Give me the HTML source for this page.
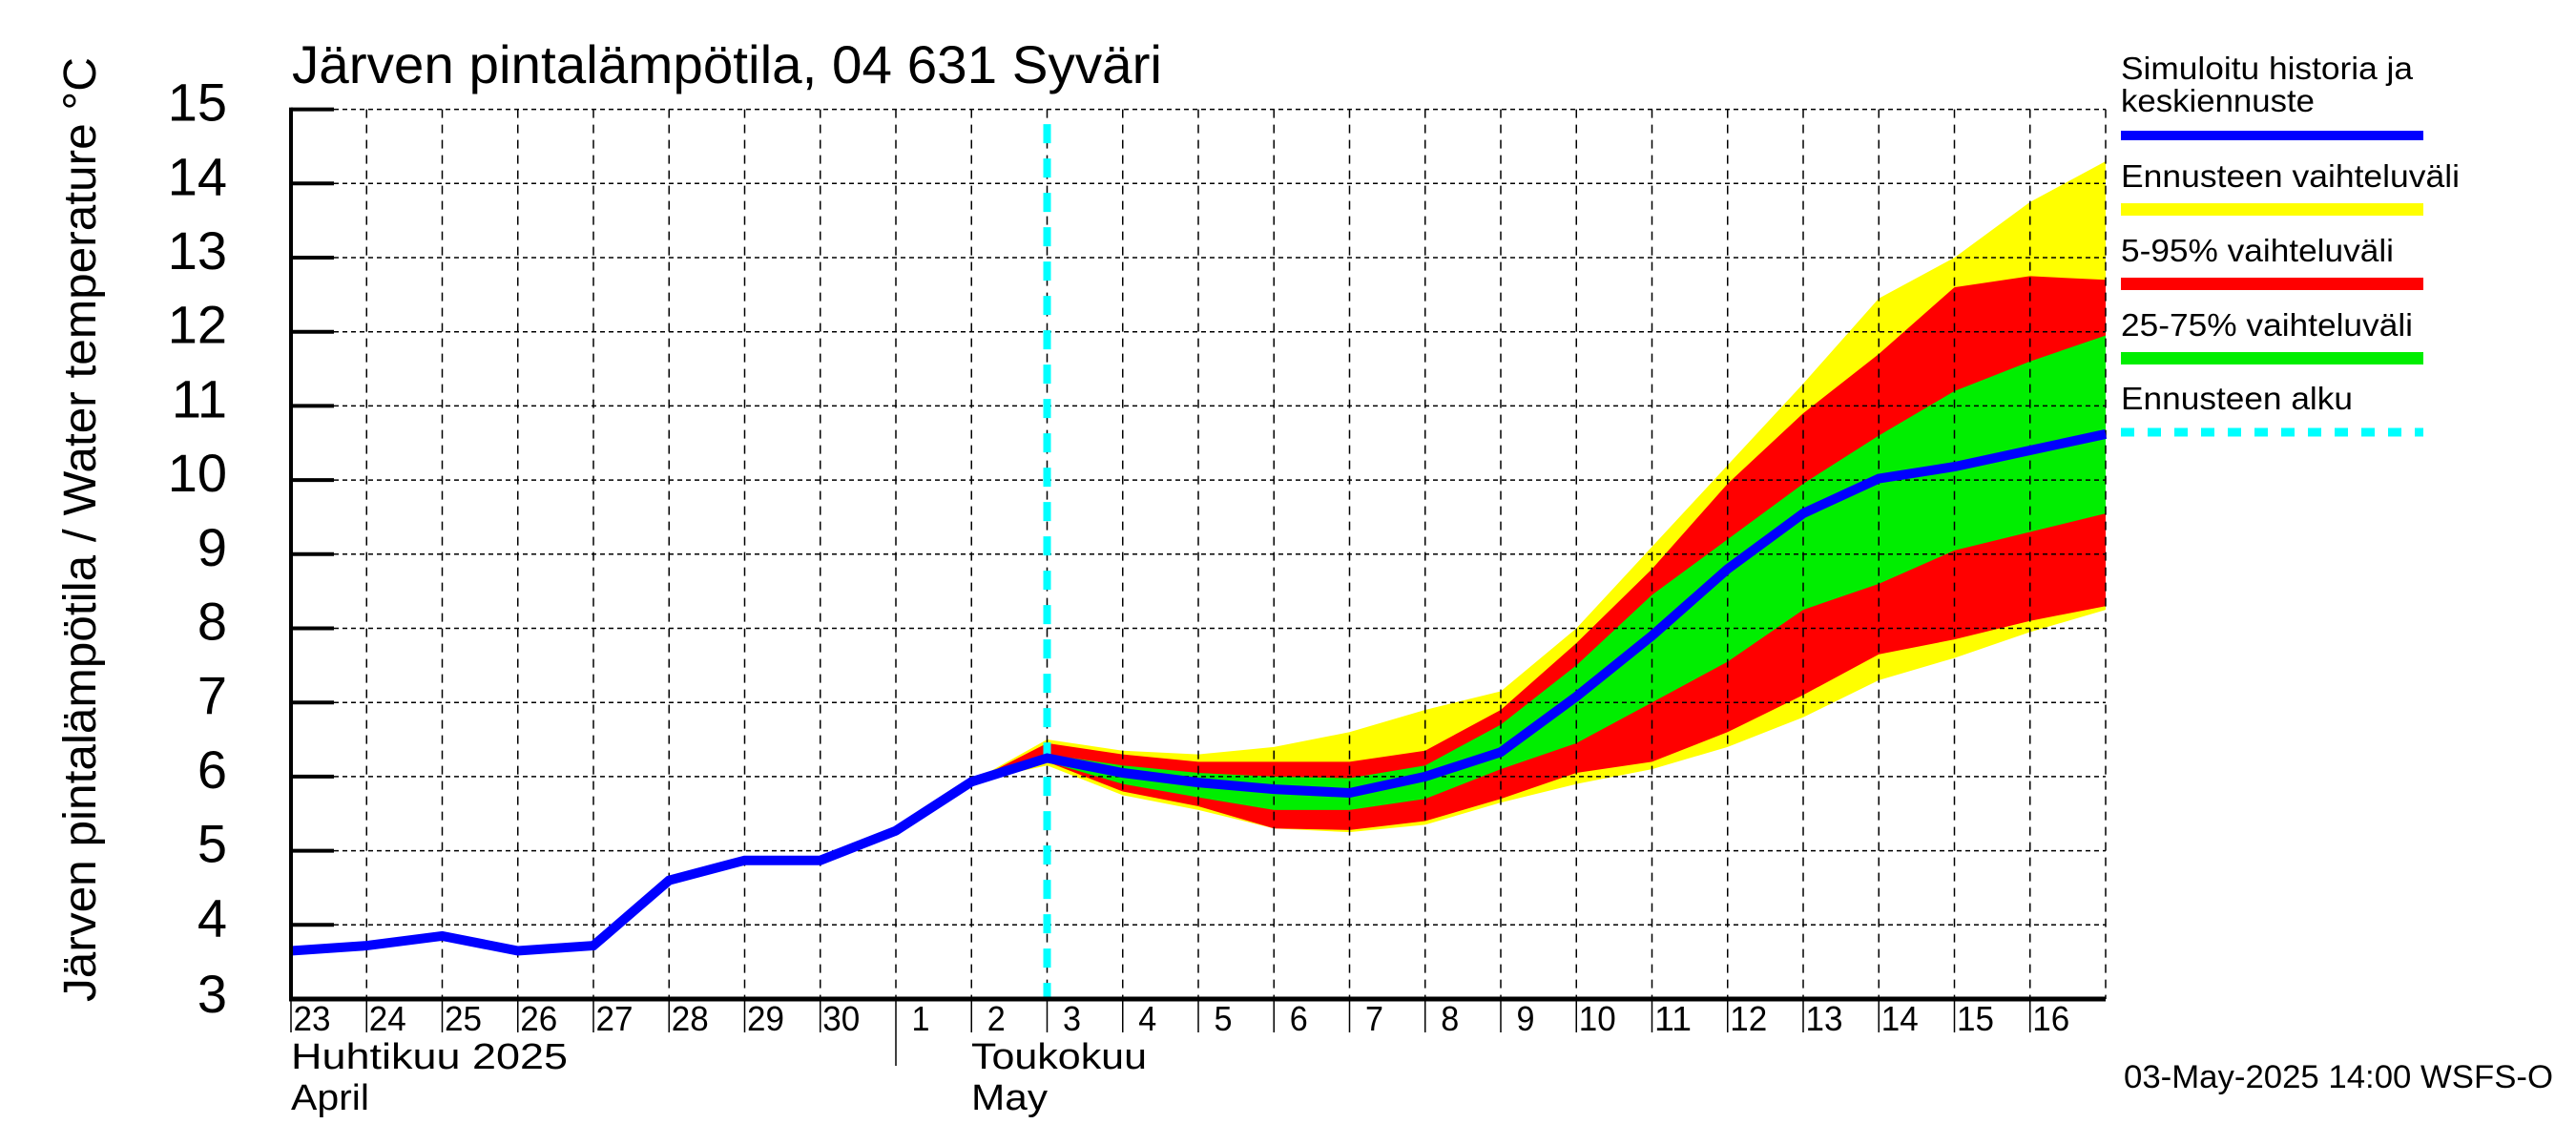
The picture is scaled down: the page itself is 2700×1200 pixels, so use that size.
<!DOCTYPE html>
<html><head><meta charset="utf-8"><style>
html,body{margin:0;padding:0;background:#fff}
svg{display:block}
text{font-family:"Liberation Sans",sans-serif;fill:#000}
</style></head><body>
<svg id="chart" width="2700" height="1200" viewBox="0 0 2700 1200" xmlns="http://www.w3.org/2000/svg">
<g id="bands"></g>
<g id="grid"></g>
<g id="series"></g>
<g id="axes"></g>
<text x="306" y="87" font-size="56" textLength="912" lengthAdjust="spacingAndGlyphs">Järven pintalämpötila, 04 631 Syväri</text>
<text transform="translate(100,555) rotate(-90)" text-anchor="middle" font-size="48" textLength="990" lengthAdjust="spacingAndGlyphs">Järven pintalämpötila / Water temperature °C</text>
<g font-size="33">
<text x="2223" y="83" textLength="306" lengthAdjust="spacingAndGlyphs">Simuloitu historia ja</text>
<text x="2223" y="117" textLength="203" lengthAdjust="spacingAndGlyphs">keskiennuste</text>
<rect x="2223" y="137" width="317" height="10" fill="#0000ff"/>
<text x="2223" y="196" textLength="355" lengthAdjust="spacingAndGlyphs">Ennusteen vaihteluväli</text>
<rect x="2223" y="213" width="317" height="13" fill="#ffff00"/>
<text x="2223" y="274" textLength="286" lengthAdjust="spacingAndGlyphs">5-95% vaihteluväli</text>
<rect x="2223" y="291" width="317" height="13" fill="#ff0000"/>
<text x="2223" y="352" textLength="306" lengthAdjust="spacingAndGlyphs">25-75% vaihteluväli</text>
<rect x="2223" y="369" width="317" height="13" fill="#00ee00"/>
<text x="2223" y="429" textLength="243" lengthAdjust="spacingAndGlyphs">Ennusteen alku</text>
<line x1="2223" y1="453" x2="2540" y2="453" stroke="#00ffff" stroke-width="9" stroke-dasharray="14 14"/>
</g>
<text x="2226" y="1140" font-size="34" textLength="450" lengthAdjust="spacingAndGlyphs">03-May-2025 14:00 WSFS-O</text>
<text x="305" y="1120" font-size="38" textLength="290" lengthAdjust="spacingAndGlyphs">Huhtikuu  2025</text>
<text x="305" y="1163" font-size="38" textLength="82" lengthAdjust="spacingAndGlyphs">April</text>
<text x="1018" y="1120" font-size="38" textLength="184" lengthAdjust="spacingAndGlyphs">Toukokuu</text>
<text x="1018" y="1163" font-size="38" textLength="80" lengthAdjust="spacingAndGlyphs">May</text>
</svg>
<script>
// Data (day index 0 = 23 April)
const dayLabels = ["23","24","25","26","27","28","29","30","1","2","3","4","5","6","7","8","9","10","11","12","13","14","15","16"];
const yTicks = [3,4,5,6,7,8,9,10,11,12,13,14,15];
const median = [3.65,3.72,3.85,3.65,3.72,4.6,4.87,4.87,5.27,5.93,6.25,6.05,5.92,5.83,5.78,6.0,6.33,7.08,7.9,8.8,9.55,10.02,10.18,10.4,10.62];
const bandStart = 9; // 2 May
const yellowHi = [5.93,6.5,6.35,6.3,6.4,6.6,6.9,7.15,8.0,9.1,10.2,11.3,12.45,13.0,13.75,14.3];
const yellowLo = [5.93,6.15,5.75,5.55,5.3,5.25,5.35,5.65,5.9,6.1,6.4,6.8,7.3,7.6,7.95,8.25];
const redHi = [5.93,6.45,6.3,6.2,6.2,6.2,6.35,6.9,7.8,8.8,9.95,10.9,11.7,12.6,12.75,12.7];
const redLo = [5.93,6.2,5.8,5.6,5.3,5.28,5.4,5.7,6.05,6.2,6.6,7.1,7.65,7.85,8.1,8.3];
const greenHi = [5.93,6.3,6.15,6.05,6.0,5.98,6.15,6.7,7.5,8.45,9.2,9.95,10.6,11.2,11.6,11.95];
const greenLo = [5.93,6.2,5.9,5.72,5.55,5.55,5.7,6.1,6.45,7.0,7.55,8.25,8.6,9.05,9.3,9.55];
const forecastDay = 10;
const monthBoundary = 8;

const X0=305, DX=79.25, Y3=1047, DY=77.7;
const xs = d => X0 + d*DX;
const ys = v => Y3 - (v-3)*DY;
const NS="http://www.w3.org/2000/svg";
function mk(tag, parent, attrs){const e=document.createElementNS(NS,tag);for(const k in attrs)e.setAttribute(k,attrs[k]);parent.appendChild(e);return e;}

const bands=document.getElementById('bands');
function band(hi,lo,color,name){
  let pts=hi.map((v,i)=>xs(bandStart+i)+','+ys(v));
  for(let i=lo.length-1;i>=0;i--)pts.push(xs(bandStart+i)+','+ys(lo[i]));
  const p=mk('polygon',bands,{points:pts.join(' '),fill:color});
  
  
}
band(yellowHi,yellowLo,'#ffff00','band-full-range');
band(redHi,redLo,'#ff0000','band-5-95');
band(greenHi,greenLo,'#00ee00','band-25-75');

const grid=document.getElementById('grid');
yTicks.forEach(t=>{
  if(t===3)return;
  const l=mk('line',grid,{x1:X0,x2:xs(24),y1:ys(t),y2:ys(t),stroke:'#000','stroke-width':1.5,'stroke-dasharray':'5 4'});
  
  
});
for(let d=1;d<=24;d++){
  const l=mk('line',grid,{x1:xs(d),x2:xs(d),y1:ys(15),y2:Y3,stroke:'#000','stroke-width':1.5,'stroke-dasharray':'9 7'});
  
  
}

const series=document.getElementById('series');
const fl=mk('line',series,{x1:xs(forecastDay),x2:xs(forecastDay),y1:ys(14.8),y2:Y3,stroke:'#00ffff','stroke-width':8,'stroke-dasharray':'20 16'});


const ml=mk('polyline',series,{points:median.map((v,i)=>xs(i)+','+ys(v)).join(' '),fill:'none',stroke:'#0000ff','stroke-width':10,'stroke-linejoin':'miter'});



const axes=document.getElementById('axes');
const ya=mk('line',axes,{x1:X0,x2:X0,y1:ys(15)-2,y2:Y3,stroke:'#000','stroke-width':4});


const xa=mk('line',axes,{x1:X0-2,x2:xs(24),y1:Y3,y2:Y3,stroke:'#000','stroke-width':5});


yTicks.forEach(t=>{
  const tk=mk('line',axes,{x1:X0,x2:X0+45,y1:ys(t),y2:ys(t),stroke:'#000','stroke-width':4});
  
  
  const tx=mk('text',axes,{x:238,y:ys(t)+(t===3?14:12),'text-anchor':'end','font-size':56});
  tx.textContent=t;
  
  
});
dayLabels.forEach((s,i)=>{
  const tk=mk('line',axes,{x1:xs(i),x2:xs(i),y1:Y3,y2:i===monthBoundary?1117:1082,stroke:'#000','stroke-width':1.5});
  
  
  const tx=mk('text',axes,{x:xs(i)+(s.length>1?22:26),y:1080,'text-anchor':'middle','font-size':36,textLength:s.length>1?39:19,lengthAdjust:'spacingAndGlyphs'});
  tx.textContent=s;
  
  
});
</script>
</body></html>
